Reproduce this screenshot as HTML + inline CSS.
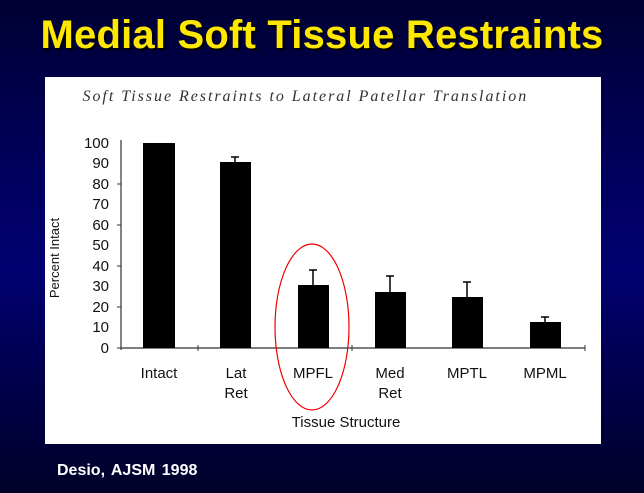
<!DOCTYPE html>
<html><head><style>
html,body{margin:0;padding:0}
body{width:644px;height:493px;overflow:hidden;background:linear-gradient(#000033 0%,#00005e 35%,#000070 55%,#000048 80%,#000028 100%);position:relative;font-family:"Liberation Sans",sans-serif}
.t{position:absolute;left:0;width:644px;top:13px;text-align:center;color:#ffe800;font-weight:bold;font-size:40px;text-shadow:2px 2px 1px #000;letter-spacing:0.2px}
.f{position:absolute;left:57px;top:462px;color:#fff;font-weight:bold;font-size:16px;word-spacing:2px}
</style></head><body>
<div class="t">Medial Soft Tissue Restraints</div>
<svg style="position:absolute;left:0;top:0" width="644" height="493">
<rect x="45" y="77" width="556" height="367" fill="#fff"/>
<text x="305" y="101" text-anchor="middle" font-family="Liberation Serif,serif" font-style="italic" font-size="16" fill="#333" letter-spacing="1.3" textLength="445">Soft Tissue Restraints to Lateral Patellar Translation</text>
<g stroke="#333" stroke-width="1.2">
<line x1="121" y1="140" x2="121" y2="350"/>
<line x1="121" y1="348" x2="585" y2="348"/>
</g>
<g font-size="15" fill="#111" text-anchor="end">
<text x="109" y="148">100</text><text x="109" y="168">90</text><text x="109" y="189">80</text><text x="109" y="209">70</text><text x="109" y="230">60</text><text x="109" y="250">50</text><text x="109" y="271">40</text><text x="109" y="291">30</text><text x="109" y="312">20</text><text x="109" y="332">10</text><text x="109" y="353">0</text>
</g>
<g stroke="#333" stroke-width="1"><line x1="117" y1="184" x2="121" y2="184"/><line x1="117" y1="225" x2="121" y2="225"/><line x1="117" y1="266" x2="121" y2="266"/><line x1="117" y1="307" x2="121" y2="307"/><line x1="117" y1="348" x2="121" y2="348"/><line x1="198" y1="345" x2="198" y2="351"/><line x1="352" y1="345" x2="352" y2="351"/><line x1="585" y1="345" x2="585" y2="351"/></g>
<g fill="#000">
<rect x="143" y="143" width="32" height="205"/>
<rect x="220" y="162" width="31" height="186"/>
<rect x="298" y="285" width="31" height="63"/>
<rect x="375" y="292" width="31" height="56"/>
<rect x="452" y="297" width="31" height="51"/>
<rect x="530" y="322" width="31" height="26"/>
</g>
<g stroke="#000" stroke-width="1.5">
<line x1="235" y1="157" x2="235" y2="162"/><line x1="231" y1="157" x2="239" y2="157"/>
<line x1="313" y1="270" x2="313" y2="285"/><line x1="309" y1="270" x2="317" y2="270"/>
<line x1="390" y1="276" x2="390" y2="292"/><line x1="386" y1="276" x2="394" y2="276"/>
<line x1="467" y1="282" x2="467" y2="297"/><line x1="463" y1="282" x2="471" y2="282"/>
<line x1="545" y1="317" x2="545" y2="322"/><line x1="541" y1="317" x2="549" y2="317"/>
</g>
<g font-size="15" fill="#111" text-anchor="middle">
<text x="159" y="378">Intact</text>
<text x="236" y="378">Lat</text><text x="236" y="398">Ret</text>
<text x="313" y="378">MPFL</text>
<text x="390" y="378">Med</text><text x="390" y="398">Ret</text>
<text x="467" y="378">MPTL</text>
<text x="545" y="378">MPML</text>
<text x="346" y="427">Tissue Structure</text>
</g>
<text transform="translate(59,258) rotate(-90)" text-anchor="middle" font-size="13" fill="#111">Percent Intact</text>
<ellipse cx="312" cy="327" rx="37" ry="83" fill="none" stroke="#e00" stroke-width="1.2"/>
</svg>
<div class="f">Desio, AJSM 1998</div>
</body></html>
